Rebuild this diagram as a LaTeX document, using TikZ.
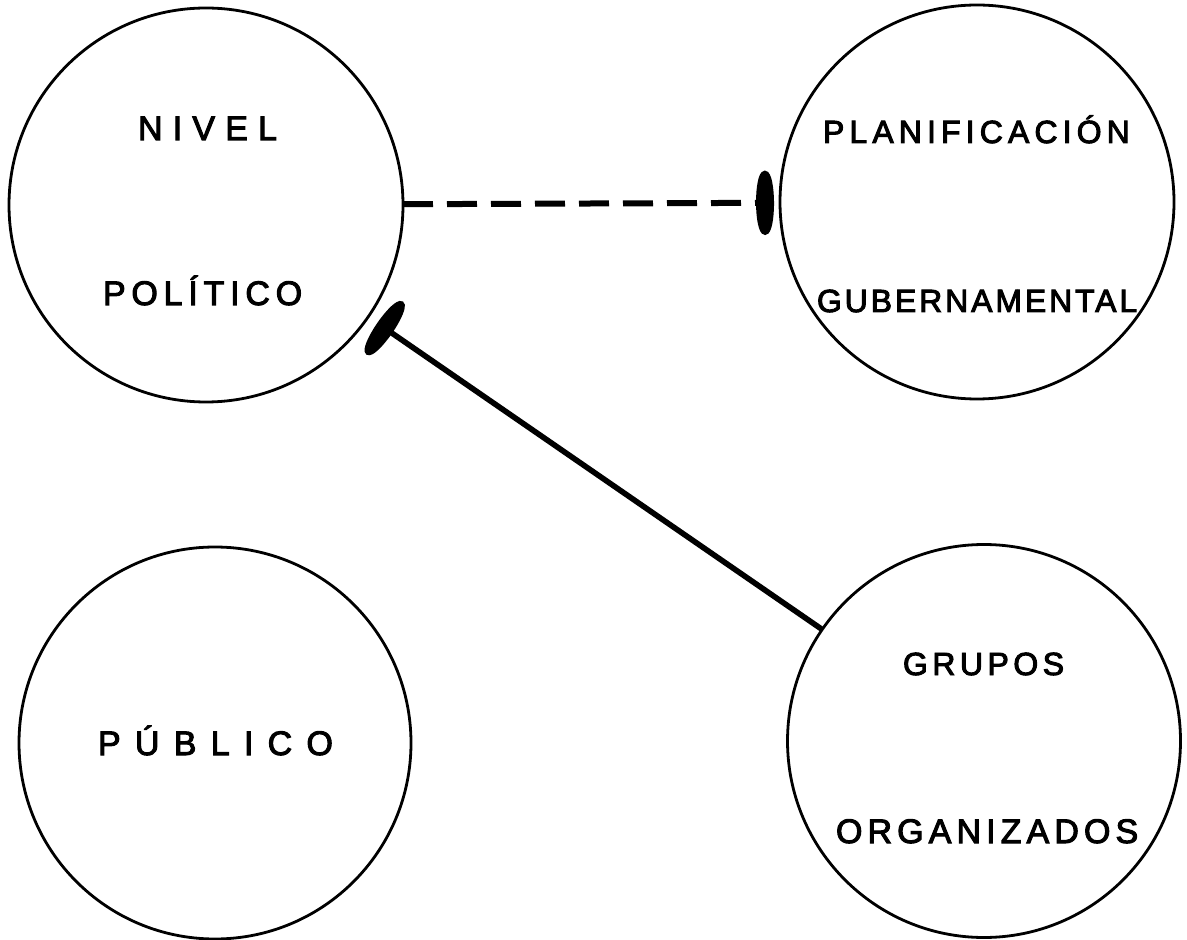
\documentclass[tikz,border=0pt]{standalone}
\usepackage{fontspec}
\newfontfamily\lettering{Liberation Sans}[FakeBold=3]
\usetikzlibrary{arrows.meta}
\begin{document}
\begin{tikzpicture}[x=0.5pt,y=-0.5pt,
  bubble/.style={circle,draw=black,line width=1.4pt,inner sep=0pt,outer sep=0pt},
  lab/.style={font=\lettering\fontsize{17}{20}\selectfont,anchor=base west,inner sep=0pt,outer sep=0pt},
  labsmall/.style={lab,font=\lettering\fontsize{16}{19}\selectfont},
  tipmark/.style={-{Ellipse[length=9pt,width=32pt]}},
  dashlink/.style={line width=3pt,dash pattern=on 15pt off 7pt,tipmark},
  solidlink/.style={line width=2.8pt,tipmark}
  ]
\useasboundingbox (0,0) rectangle (1187,940);
% circles
\node[bubble,minimum size=197pt] (pol) at (206,205) {};
\node[bubble,minimum size=197pt] (plan) at (977,202) {};
\node[bubble,minimum size=196pt] (pub) at (215,743) {};
\node[bubble,minimum size=196.5pt] (grp) at (984,741) {};
% labels
\node[lab] (polA) at (138,140) {\addfontfeatures{LetterSpace=30}NIVEL};
\node[lab] (polB) at (103,305) {\addfontfeatures{LetterSpace=17}POLÍTICO};
\node[labsmall] (planA) at (823,143) {\addfontfeatures{LetterSpace=16}PLANIFICACIÓN};
\node[labsmall] (planB) at (817,312) {\addfontfeatures{LetterSpace=9}GUBERNAMENTAL};
\node[lab] (pubA) at (98,755) {\addfontfeatures{LetterSpace=42}PÚBLICO};
\node[labsmall] (grpA) at (903,675) {\addfontfeatures{LetterSpace=14}GRUPOS};
\node[lab] (grpB) at (836,843) {\addfontfeatures{LetterSpace=15}ORGANIZADOS};
% connectors
\draw[dashlink,shorten >=3pt] (pol) -- (plan);
\draw[solidlink,shorten >=5.5pt] (grp) -- (pol);
\end{tikzpicture}
\end{document}
